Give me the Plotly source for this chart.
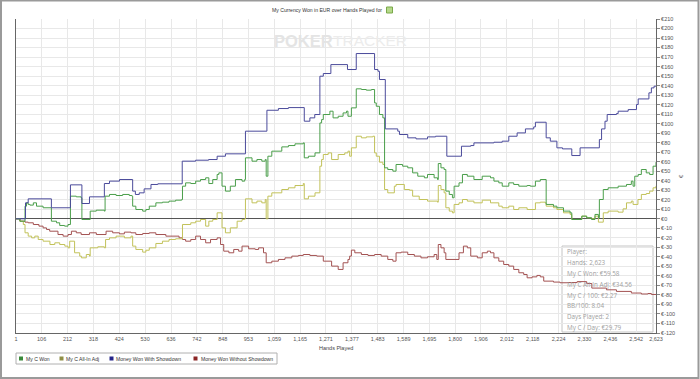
import plotly.graph_objects as go

# ---------------- data ----------------
x_tick_vals = [1, 106, 212, 318, 424, 530, 636, 742, 848, 953, 1059, 1165, 1271, 1377, 1483,
               1589, 1695, 1800, 1906, 2012, 2118, 2224, 2330, 2436, 2542, 2623]
y_tick_vals = list(range(-120, 211, 10))

blue_hands = [1, 40, 51, 146, 224, 271, 302, 363, 384, 425,
              479, 490, 506, 526, 554, 582, 682, 737, 790, 825,
              859, 941, 1029, 1076, 1117, 1182, 1205, 1225, 1246, 1260,
              1291, 1359, 1395, 1470, 1484, 1490, 1514, 1565, 1572, 1606,
              1640, 1687, 1720, 1766, 1826, 1864, 1877, 1959, 1993, 2020,
              2054, 2088, 2122, 2129, 2173, 2190, 2217, 2240, 2278, 2312,
              2391, 2400, 2414, 2423, 2461, 2468, 2509, 2543, 2550, 2594,
              2604, 2615, 2623]
blue_vals = [0, 16.8, 21, 11.6, 35.7, 16.1, 23.1, 37.1, 39.6, 41.3,
             29.1, 25.6, 27.3, 31.5, 36.1, 36.8, 60.6, 61.6, 62.3, 65.8,
             68.3, 92.1, 114.1, 115.9, 116.9, 102.6, 106.1, 109.6, 149.9, 152.7,
             162.1, 156.9, 173.7, 156.9, 155.1, 146.4, 94.5, 92.1, 88.6, 85.1,
             84, 86.1, 86.8, 65.8, 76.3, 77, 79.8, 80.5, 81.6, 86.8,
             90.3, 94.5, 96.6, 101.5, 85.1, 81.6, 74.6, 73.5, 66.5, 74.6,
             83.3, 94.5, 102.6, 109.6, 110.6, 113.1, 114.8, 120.1, 126, 132.4,
             137.6, 139.4, 139.4]

red_hands = [1, 17, 38, 51, 72, 95, 112, 126, 139, 173,
             194, 214, 228, 248, 268, 302, 330, 370, 397, 425,
             445, 472, 492, 520, 547, 574, 615, 669, 683, 696,
             717, 737, 757, 778, 798, 825, 839, 852, 873, 893,
             913, 927, 954, 981, 995, 1015, 1026, 1049, 1076, 1103,
             1131, 1158, 1178, 1205, 1233, 1260, 1294, 1321, 1341, 1361,
             1368, 1375, 1389, 1416, 1443, 1470, 1497, 1524, 1545, 1558,
             1579, 1606, 1633, 1660, 1687, 1714, 1725, 1731, 1742, 1755,
             1762, 1816, 1834, 1850, 1864, 1891, 1911, 1932, 1945, 1959,
             1979, 1999, 2020, 2040, 2061, 2081, 2095, 2115, 2135, 2149,
             2163, 2203, 2230, 2258, 2300, 2339, 2360, 2420, 2461, 2522,
             2563, 2590, 2604, 2623]
red_vals = [0, -2.5, -3.5, -4.2, -6, -7.7, -9.5, -11.2, -13, -16.5,
            -18.2, -16.5, -13, -14.7, -16.5, -14.7, -16.5, -13, -14.7, -15.8,
            -14, -14.7, -16.5, -15.4, -14.7, -16.5, -18.2, -20, -21.7, -23.5,
            -21.7, -18.2, -21.7, -25.2, -21.7, -20, -27, -34, -35.7, -32.2,
            -34, -28.7, -31.5, -32.2, -30.5, -35.7, -46.2, -44.5, -42.7, -41,
            -39.2, -38.5, -37.5, -38.5, -39.2, -44.5, -49.7, -53.2, -46.2, -42.7,
            -39.2, -32.9, -35.7, -37.5, -38.5, -37.5, -39.2, -42.7, -44.5, -35.7,
            -35, -37.5, -39.2, -41, -39.9, -37.5, -42.7, -27, -30.5, -35.7,
            -42.7, -35.7, -28.7, -30.5, -39.2, -41, -35.7, -34, -35.7, -41,
            -44.5, -48, -49.7, -53.2, -56.7, -58.5, -62, -61, -59.5, -61,
            -65.5, -66.5, -67.2, -67, -66, -68, -72.8, -74.6, -76.3, -78,
            -79, -78.5, -79.5, -79.8]

green_hands = [1, 17, 38, 44, 51, 58, 72, 85, 112, 146,
               167, 180, 200, 214, 224, 248, 268, 271, 305, 330,
               363, 366, 384, 411, 438, 465, 476, 479, 492, 520,
               533, 547, 574, 601, 628, 655, 680, 683, 696, 717,
               737, 757, 778, 791, 807, 825, 832, 845, 859, 879,
               900, 927, 938, 941, 968, 988, 1008, 1022, 1026, 1033,
               1049, 1090, 1117, 1144, 1178, 1182, 1199, 1226, 1246, 1253,
               1260, 1287, 1300, 1321, 1341, 1355, 1361, 1375, 1395, 1416,
               1436, 1457, 1470, 1477, 1490, 1504, 1511, 1524, 1545, 1558,
               1585, 1606, 1626, 1647, 1674, 1687, 1714, 1728, 1731, 1742,
               1755, 1762, 1776, 1789, 1796, 1816, 1830, 1850, 1877, 1911,
               1945, 1959, 1979, 1993, 2020, 2040, 2061, 2095, 2108, 2129,
               2149, 2173, 2203, 2217, 2244, 2271, 2278, 2319, 2339, 2359,
               2373, 2387, 2391, 2407, 2427, 2468, 2502, 2522, 2529, 2536,
               2550, 2563, 2583, 2597, 2611, 2623]
green_vals = [0, -2.5, 13.3, 16.8, 15.1, 14.4, 16.8, 13.3, 11.6, -2.5,
              -4.2, -7, -7.7, -6, 23.8, 23.1, 22.1, -0.7, 8.1, 9.1,
              8.1, 23.8, 25.6, 24.5, 25.6, 24.5, 23.8, 13.3, 9.8, 8.1,
              9.8, 13.3, 16.8, 17.5, 18.6, 19.6, 20.3, 34.3, 37.8, 37.1,
              39.6, 41.3, 43.1, 37.1, 41.3, 46.6, 48.3, 34.3, 29.1, 34.3,
              41.3, 39.6, 41.3, 64.1, 60.6, 62.3, 60.6, 62.3, 44.8, 65.8,
              71.1, 75.6, 77, 78.8, 79.8, 64.1, 65.8, 69.3, 100.8, 104.3,
              109.6, 113.1, 106.1, 107.8, 111.3, 113.1, 107.8, 116.6, 136.6, 135.9,
              135.2, 135.9, 121.8, 118.3, 109.6, 106.1, 53.6, 51.8, 50.1, 57.1,
              55.3, 53.6, 48.3, 44.8, 43.1, 46.6, 43.1, 41.3, 58.1, 53.6,
              51.8, 29.1, 25.6, 22.1, 34.3, 37.8, 46.6, 44.8, 41.3, 44.8,
              43.1, 39.6, 37.8, 34.3, 37.8, 36.1, 34.3, 35, 34.3, 39.6,
              41.3, 15.1, 13.3, 11.6, 8.1, 6.3, -0.7, 2.8, 1.1, -0.7,
              4.6, 1.1, 20.3, 30.8, 32.6, 34.3, 36.1, 39.6, 34.3, 44.8,
              46.6, 51.8, 48.3, 46.6, 55.3, 59.58]

yellow_hands = [1, 17, 31, 38, 51, 65, 78, 92, 112, 140,
                160, 180, 201, 214, 221, 241, 262, 269, 289, 302,
                305, 336, 363, 368, 384, 411, 445, 472, 479, 492,
                520, 533, 547, 574, 601, 628, 655, 683, 717, 737,
                757, 778, 791, 807, 825, 845, 859, 879, 907, 927,
                938, 941, 968, 988, 1008, 1022, 1026, 1033, 1049, 1090,
                1117, 1144, 1178, 1182, 1199, 1226, 1246, 1253, 1260, 1280,
                1294, 1321, 1348, 1361, 1368, 1375, 1395, 1416, 1436, 1463,
                1470, 1477, 1490, 1504, 1511, 1524, 1551, 1558, 1592, 1613,
                1626, 1653, 1687, 1728, 1731, 1742, 1755, 1762, 1776, 1789,
                1796, 1816, 1830, 1850, 1877, 1911, 1945, 1979, 1993, 2020,
                2040, 2061, 2095, 2129, 2149, 2169, 2173, 2203, 2217, 2244,
                2271, 2278, 2319, 2339, 2359, 2373, 2387, 2407, 2427, 2468,
                2488, 2502, 2522, 2529, 2549, 2563, 2583, 2597, 2611, 2623]
yellow_vals = [0, -2.5, -6, -14.7, -18.2, -20, -18.2, -21.7, -23.5, -27,
               -25.2, -27, -28.7, -30.5, -23.5, -35.7, -39.2, -41, -37.5, -39.2,
               -30.5, -29.4, -30.5, -21.7, -20, -18.2, -20, -18.2, -28.7, -32.2,
               -35, -33, -30.5, -25.9, -23.5, -21.7, -21, -6, -4.2, -2.5,
               -0.7, -7.7, -2.5, -0.7, 6.3, -9.5, -14.7, -9.5, -2.5, -0.7,
               0, 21, 16.8, 18.6, 16.8, 20.3, 0, 23.8, 27.3, 30.8,
               32.6, 35, 37.1, 21, 23.8, 27.3, 55.3, 62.3, 67.6, 69.3,
               62.3, 67.6, 69.3, 71.1, 65.8, 74.6, 86.8, 85.1, 86.1, 86.8,
               69.3, 65.8, 59.5, 57.1, 30.8, 27.3, 34.3, 36.1, 30.8, 30.1,
               23.8, 20.3, 18.6, 17.5, 35, 30.8, 27.3, 11.6, 8.1, 6.3,
               15.1, 16.8, 20.3, 18.6, 16.8, 19.6, 16.8, 13.3, 11.6, 13.3,
               9.8, 11.6, 9.8, 16.8, 17.5, 16.8, 13.3, 11.6, 9.8, 6.3,
               4.6, -0.7, 2.8, 1.1, 0, 2.8, -3.5, 6.3, 8.1, 7,
               10.5, 16.8, 18.6, 15.1, 20.3, 25.6, 26.6, 29.1, 32.6, 34.56]

series_names = ["My C Won", "My C All-In Adj", "Money Won With Showdown", "Money Won Without Showdown"]
tooltip_lines = ["Player:", "Hands: 2,623", "My C Won: €59.58", "My C All-In Adj: €34.56",
                 "My C / 100: €2.27", "BB/100: 8.04", "Days Played: 2", "My C / Day: €29.79"]

# ---------------- styling ----------------
W, H = 700, 379
L, R, T, B = 16, 44, 19, 46
PW, PH = W - L - R, H - T - B
FONT = "Liberation Sans, Arial, sans-serif"

def px(xp):
    return (xp - L) / PW

def py(yp):
    return (H - B - yp) / PH

line_colors = ["#4a9e4a", "#c2c25a", "#4b4b9b", "#a35252"]
legend_colors = ["#3a8a3a", "#8f8f45", "#25258a", "#8a2525"]

fig = go.Figure()
data = [(green_hands, green_vals), (yellow_hands, yellow_vals),
        (blue_hands, blue_vals), (red_hands, red_vals)]
# draw order: red, yellow, green, blue
for idx in [3, 1, 0, 2]:
    hx, hy = data[idx]
    fig.add_trace(go.Scatter(x=hx, y=hy, mode="lines", name=series_names[idx],
                             line=dict(color=line_colors[idx], width=1, shape="hv"),
                             showlegend=False, hoverinfo="skip"))

x_tick_text = [f"{v:,}" for v in x_tick_vals]
y_tick_text = [f"€{v}" for v in y_tick_vals]

fig.update_layout(
    width=W, height=H, autosize=False,
    margin=dict(l=L, r=R, t=T, b=B, pad=0),
    paper_bgcolor="white", plot_bgcolor="white",
    font=dict(family=FONT, size=6, color="#444"),
    showlegend=False,
    hovermode=False,
    xaxis=dict(range=[1, 2623], tickvals=x_tick_vals, ticktext=x_tick_text,
               showgrid=True, gridcolor="#e8e8e8", gridwidth=1,
               showline=True, linecolor="#666", linewidth=1, zeroline=False,
               ticks="", tickfont=dict(size=5.5, color="#555"), fixedrange=True),
    yaxis=dict(range=[-120, 210], side="right", tickvals=y_tick_vals, ticktext=y_tick_text,
               showgrid=True, gridcolor="#e8e8e8", gridwidth=1,
               showline=True, linecolor="#666", linewidth=1, mirror=True,
               ticks="outside", ticklen=3, tickcolor="#888",
               zeroline=True, zerolinecolor="#555", zerolinewidth=1,
               tickfont=dict(size=5.5, color="#555"), fixedrange=True),
)

shapes = []
annotations = []

# outer frame
shapes.append(dict(type="rect", xref="paper", yref="paper",
                   x0=px(1), x1=px(698.5), y0=py(378), y1=py(0.5),
                   line=dict(color="#9a9a9a", width=2), fillcolor="rgba(0,0,0,0)", layer="above"))

# title
annotations.append(dict(xref="paper", yref="paper", x=px(384), y=py(10), xanchor="right", yanchor="middle",
                        text="My Currency Won in EUR over Hands Played for", showarrow=False,
                        font=dict(family=FONT, size=5.1, color="#333")))
shapes.append(dict(type="rect", xref="paper", yref="paper", x0=px(386.5), x1=px(392.5), y0=py(13), y1=py(7),
                   line=dict(color="#7aa84a", width=1), fillcolor="#b5d98a"))

# watermark
annotations.append(dict(xref="paper", yref="paper", x=px(272), y=py(40.5), xanchor="left", yanchor="middle",
                        text="<b>POKER</b>", showarrow=False,
                        font=dict(family=FONT, size=16.5, color="#e4e4e4")))
annotations.append(dict(xref="paper", yref="paper", x=px(331), y=py(40.5), xanchor="left", yanchor="middle",
                        text="TRACKER", showarrow=False,
                        font=dict(family=FONT, size=15.5, color="#ececec")))

# axis titles
annotations.append(dict(xref="paper", yref="paper", x=px(336), y=py(348), xanchor="center", yanchor="middle",
                        text="Hands Played", showarrow=False, font=dict(family=FONT, size=5.5, color="#444")))
annotations.append(dict(xref="paper", yref="paper", x=px(681), y=py(176), xanchor="center", yanchor="middle",
                        text="€", textangle=-90, showarrow=False, font=dict(family=FONT, size=6, color="#444")))

# legend (manual)
shapes.append(dict(type="rect", xref="paper", yref="paper", x0=px(16), x1=px(277), y0=py(364), y1=py(353),
                   line=dict(color="#b0b0b0", width=1), fillcolor="white"))
sq_cx = [21, 61.5, 111.5, 195.5]
txt_x = [24, 64, 114, 199]
for i in range(4):
    shapes.append(dict(type="rect", xref="paper", yref="paper",
                       x0=px(sq_cx[i] - 2), x1=px(sq_cx[i] + 2), y0=py(360.5), y1=py(356.5),
                       line=dict(width=0), fillcolor=legend_colors[i]))
    annotations.append(dict(xref="paper", yref="paper", x=px(txt_x[i]), y=py(358.5), xanchor="left",
                            yanchor="middle", text=series_names[i], showarrow=False,
                            font=dict(family=FONT, size=5.1, color="#333")))

# tooltip box
shapes.append(dict(type="rect", xref="paper", yref="paper", x0=px(562), x1=px(653), y0=py(332), y1=py(246),
                   line=dict(color="#c4c4c4", width=1), fillcolor="rgba(255,255,255,0.92)", layer="between"))
tip_y = [251.5, 262.5, 273.5, 284.3, 295, 305.8, 316.5, 327.3]
for ty, tt in zip(tip_y, tooltip_lines):
    annotations.append(dict(xref="paper", yref="paper", x=px(565), y=py(ty), xanchor="left", yanchor="middle",
                            text=tt, showarrow=False,
                            font=dict(family="Open Sans, sans-serif", size=6.3, color="#a0a0a0")))

fig.update_layout(shapes=shapes, annotations=annotations)
fig.write_html("out.html",
               config={"displayModeBar": False},
               post_script="document.body.style.margin='0';document.body.style.padding='0';")
